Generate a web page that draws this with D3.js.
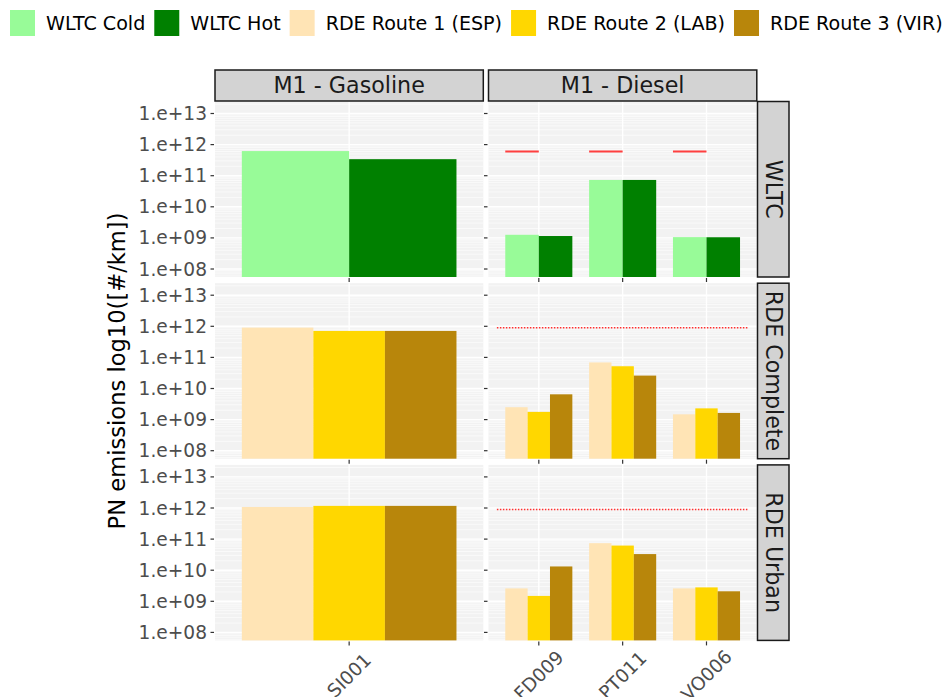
<!DOCTYPE html>
<html><head><meta charset="utf-8">
<script src="https://cdn.jsdelivr.net/npm/d3@7"></script>
<style>body{margin:0;background:#fff}svg{font-family:"DejaVu Sans",sans-serif}</style>
</head><body><svg id="c" width="945" height="697"></svg>
<script>
// ---- data ----
const vehicles = ["SI001", "FD009", "PT011", "VO006"];
const vehicleType = ["M1 - Gasoline", "M1 - Diesel", "M1 - Diesel", "M1 - Diesel"];
const columns = ["M1 - Gasoline", "M1 - Diesel"];
const rows = ["WLTC", "RDE Complete", "RDE Urban"];
const legendLabels = ["WLTC Cold", "WLTC Hot", "RDE Route 1 (ESP)", "RDE Route 2 (LAB)", "RDE Route 3 (VIR)"];
const legendColors = ["#98fb98", "#008000", "#ffe4b5", "#ffd700", "#b8860b"];
const yTickValues = [1e8, 1e9, 1e10, 1e11, 1e12, 1e13];
const yTickLabels = ["1.e+08", "1.e+09", "1.e+10", "1.e+11", "1.e+12", "1.e+13"];
const yLabel = "PN emissions log10([#/km])";

const wltcCold = [6.2e11, 1.26e9, 7.3e10, 1.06e9];
const wltcHot  = [3.4e11, 1.15e9, 7.3e10, 1.05e9];
const rdeCompleteR1 = [9.1e11, 2.5e9, 6.9e10, 1.48e9];
const rdeCompleteR2 = [7.1e11, 1.77e9, 5.2e10, 2.3e9];
const rdeCompleteR3 = [7.1e11, 6.5e9, 2.6e10, 1.64e9];
const rdeUrbanR1 = [1.08e12, 2.6e9, 7.4e10, 2.6e9];
const rdeUrbanR2 = [1.17e12, 1.49e9, 6.2e10, 2.8e9];
const rdeUrbanR3 = [1.17e12, 1.32e10, 3.3e10, 2.1e9];
const wltcLimitDiesel = 6e11;
const rdeLimitDiesel = 9e11;

const rowSeries = [
  [{name: "WLTC Cold", v: wltcCold}, {name: "WLTC Hot", v: wltcHot}],
  [{name: "RDE Route 1 (ESP)", v: rdeCompleteR1}, {name: "RDE Route 2 (LAB)", v: rdeCompleteR2}, {name: "RDE Route 3 (VIR)", v: rdeCompleteR3}],
  [{name: "RDE Route 1 (ESP)", v: rdeUrbanR1}, {name: "RDE Route 2 (LAB)", v: rdeUrbanR2}, {name: "RDE Route 3 (VIR)", v: rdeUrbanR3}]
];
const colorOf = d3.scaleOrdinal().domain(legendLabels).range(legendColors);

// ---- layout ----
const svg = d3.select("#c");
const colX = [[215, 483.3], [488.5, 756.8]];
const rowTop = [101.5, 283.2, 464.9];
const rowH = 175.5;

function xScaleFor(ci) {
  const cats = vehicles.filter((v, i) => vehicleType[i] === columns[ci]);
  const n = cats.length;
  const dom = n === 1 ? [0.5, 1.5] : [0.4, n + 0.6];
  const s = d3.scaleLinear().domain(dom).range(colX[ci]);
  return {cats, s};
}

// legend (sequential layout)
const lg = svg.append("g");
let lx = 10;
legendLabels.forEach((l, i) => {
  lg.append("rect").attr("x", lx).attr("y", 10).attr("width", 25).attr("height", 26).attr("fill", legendColors[i]);
  const t = lg.append("text").attr("x", lx + 36).attr("y", 23).attr("dy", "0.35em")
    .attr("font-size", 19.1).attr("fill", "#000").text(l);
  lx = lx + 36 + t.node().getComputedTextLength() + 9;
});

rows.forEach((rname, ri) => {
  const y = d3.scaleLog().domain([Math.pow(10, 7.743), Math.pow(10, 13.386)]).range([rowTop[ri] + rowH, rowTop[ri]]);
  columns.forEach((cname, ci) => {
    const {cats, s} = xScaleFor(ci);
    const g = svg.append("g");
    const [x0, x1] = colX[ci];
    g.append("rect").attr("x", x0).attr("y", rowTop[ri]).attr("width", x1 - x0).attr("height", rowH).attr("fill", "#f2f2f2");
    // minor grid
    const minors = [];
    for (let e = 7; e <= 13; e++) for (let m = 2; m <= 9; m++) {
      const v = m * Math.pow(10, e);
      if (v > y.domain()[0] && v < y.domain()[1]) minors.push(v);
    }
    g.selectAll(".mn").data(minors).join("line").attr("x1", x0).attr("x2", x1)
      .attr("y1", d => y(d)).attr("y2", d => y(d)).attr("stroke", "#fff").attr("stroke-width", 0.6);
    g.selectAll(".mj").data(yTickValues).join("line").attr("x1", x0).attr("x2", x1)
      .attr("y1", d => y(d)).attr("y2", d => y(d)).attr("stroke", "#fff").attr("stroke-width", 1.4);
    g.selectAll(".vg").data(cats).join("line").attr("x1", (d, i) => s(i + 1)).attr("x2", (d, i) => s(i + 1))
      .attr("y1", rowTop[ri]).attr("y2", rowTop[ri] + rowH).attr("stroke", "#fff").attr("stroke-width", 1.4);
    // bars
    const series = rowSeries[ri];
    const k = series.length;
    const bw = 0.8 / k;
    cats.forEach((cat, ci2) => {
      const vi = vehicles.indexOf(cat);
      series.forEach((ser, si) => {
        const xl = s(ci2 + 1 - 0.4 + si * bw), xr = s(ci2 + 1 - 0.4 + (si + 1) * bw);
        g.append("rect").attr("x", xl).attr("width", xr - xl)
          .attr("y", y(ser.v[vi])).attr("height", rowTop[ri] + rowH - y(ser.v[vi]))
          .attr("fill", colorOf(ser.name));
      });
    });
    // limits (diesel only)
    if (cname === "M1 - Diesel") {
      if (ri === 0) {
        cats.forEach((cat, i) => {
          g.append("line").attr("x1", s(i + 1 - 0.4)).attr("x2", s(i + 1)).attr("y1", y(wltcLimitDiesel)).attr("y2", y(wltcLimitDiesel))
            .attr("stroke", "#ff4040").attr("stroke-width", 2);
        });
      } else {
        g.append("line").attr("x1", s(0.5)).attr("x2", s(cats.length + 0.5)).attr("y1", y(rdeLimitDiesel)).attr("y2", y(rdeLimitDiesel))
          .attr("stroke", "#ff3030").attr("stroke-width", 1.5).attr("stroke-dasharray", "1.5,1.5");
      }
    }
    // y ticks
    g.selectAll(".yt").data(yTickValues).join("line").attr("x1", x0 - 4.5).attr("x2", x0 - 1)
      .attr("y1", d => y(d)).attr("y2", d => y(d)).attr("stroke", "#333").attr("stroke-width", 1.2);
    if (ci === 0) {
      g.selectAll(".yl").data(yTickValues).join("text").attr("x", x0 - 8).attr("y", d => y(d)).attr("dy", "0.35em")
        .attr("text-anchor", "end").attr("font-size", 18.6).attr("fill", "#4d4d4d").text((d, i) => yTickLabels[i]);
    }
    // x ticks
    g.selectAll(".xt").data(cats).join("line").attr("x1", (d, i) => s(i + 1)).attr("x2", (d, i) => s(i + 1))
      .attr("y1", rowTop[ri] + rowH + 1).attr("y2", rowTop[ri] + rowH + 5).attr("stroke", "#333").attr("stroke-width", 1.2);
    if (ri === rows.length - 1) {
      cats.forEach((cat, i) => {
        g.append("text").attr("transform", `translate(${s(i + 1)},${rowTop[ri] + rowH + 35}) rotate(-45)`)
          .attr("text-anchor", "middle").attr("dy", "0.35em").attr("font-size", 18.6).attr("fill", "#4d4d4d").text(cat);
      });
    }
    // top strip
    if (ri === 0) {
      svg.append("rect").attr("x", x0).attr("y", 70).attr("width", x1 - x0).attr("height", 31)
        .attr("fill", "#d3d3d3").attr("stroke", "#1a1a1a").attr("stroke-width", 1.5);
      svg.append("text").attr("x", (x0 + x1) / 2).attr("y", 85).attr("dy", "0.35em").attr("text-anchor", "middle")
        .attr("font-size", 22.2).attr("fill", "#1a1a1a").text(cname);
    }
  });
  // right strip
  svg.append("rect").attr("x", 757.5).attr("y", rowTop[ri]).attr("width", 31.5).attr("height", rowH)
    .attr("fill", "#d3d3d3").attr("stroke", "#1a1a1a").attr("stroke-width", 1.5);
  svg.append("text").attr("transform", `translate(773.5,${rowTop[ri] + rowH / 2}) rotate(90)`).attr("dy", "0.35em")
    .attr("text-anchor", "middle").attr("font-size", 22.2).attr("fill", "#1a1a1a").text(rname);
});

svg.append("text").attr("transform", `translate(117,${(rowTop[0] + rowTop[2] + rowH) / 2}) rotate(-90)`)
  .attr("text-anchor", "middle").attr("dy", "0.35em").attr("font-size", 22.6).attr("fill", "#000").text(yLabel);
</script></body></html>
